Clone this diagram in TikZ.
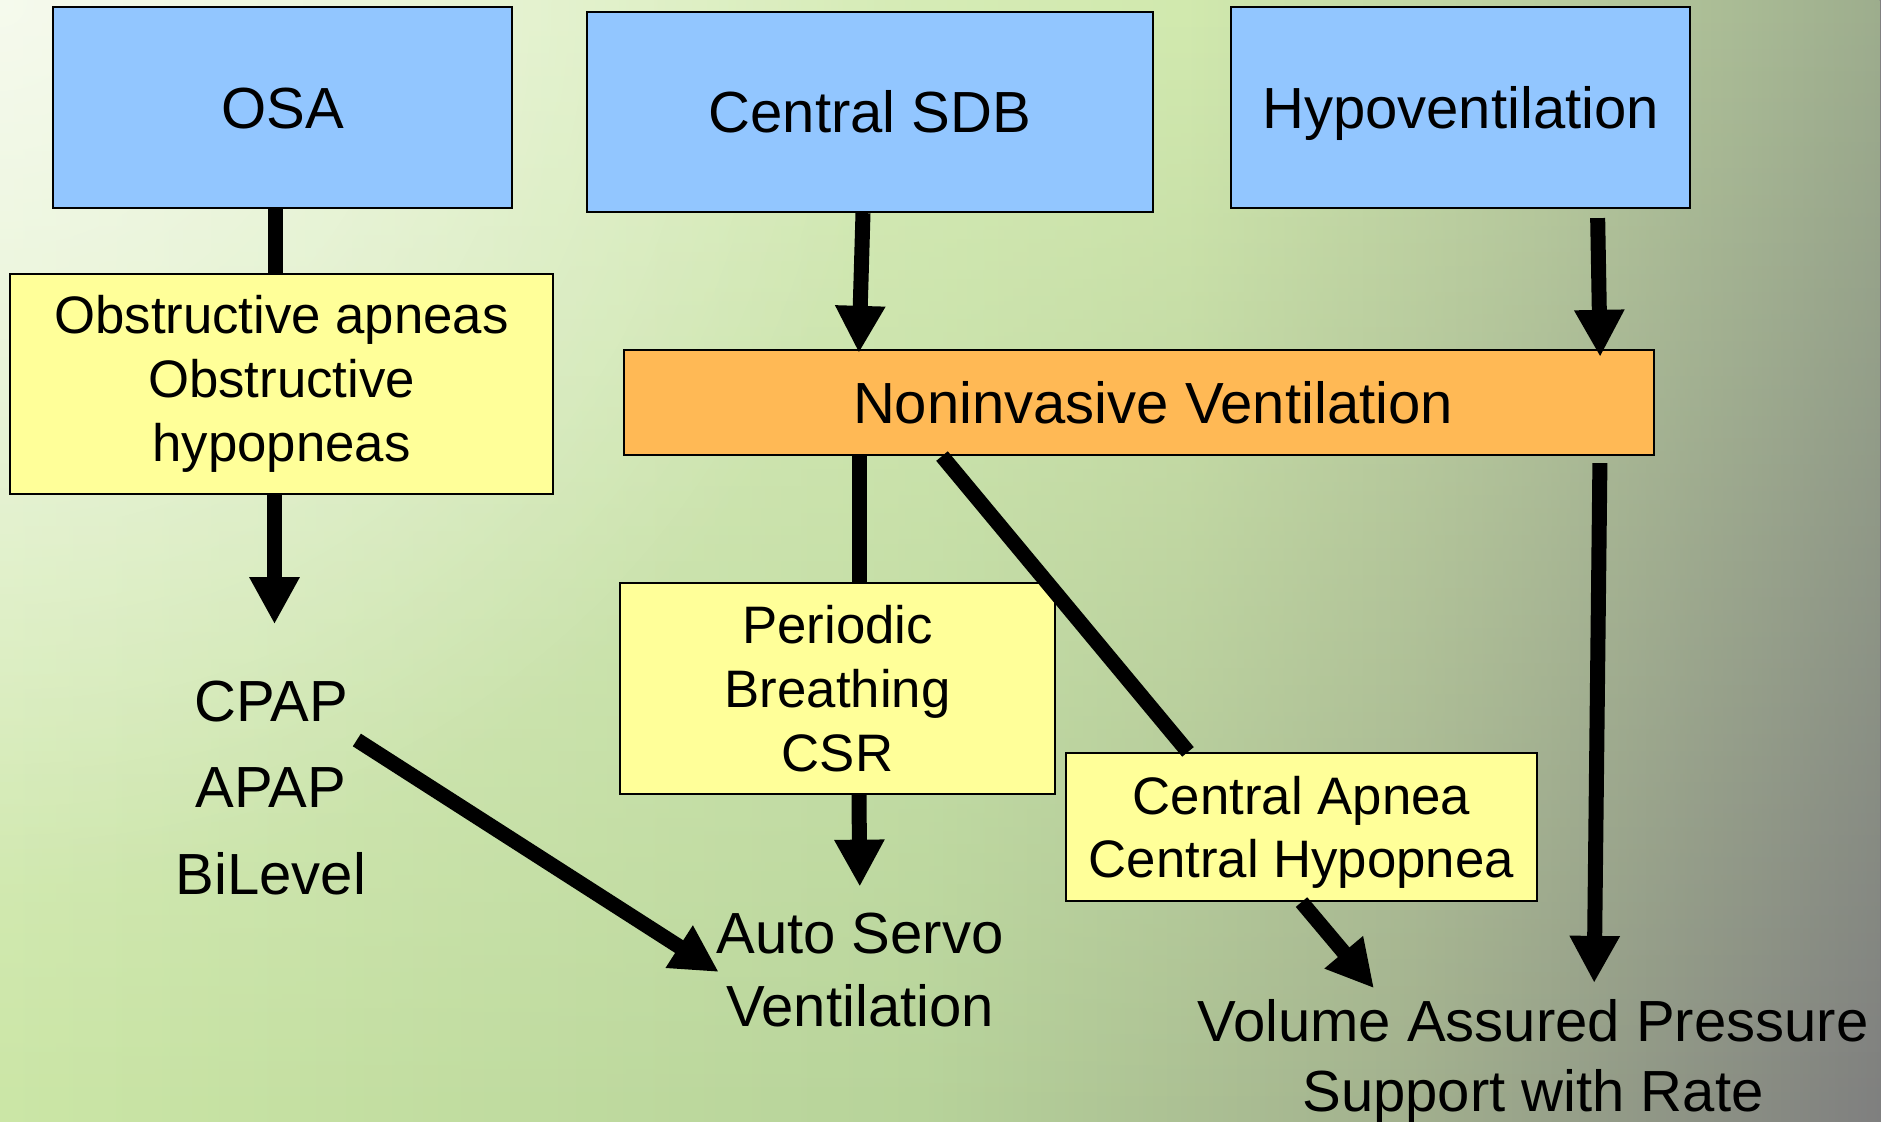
\documentclass[tikz,border=0pt]{standalone}
\usepackage{fontspec}
\setmainfont{Liberation Sans}
\usepackage{xcolor}
\usetikzlibrary{arrows.meta,fadings}

\definecolor{causeblue}{RGB}{146,198,255}
\definecolor{findyellow}{RGB}{255,255,153}
\definecolor{nivorange}{RGB}{255,185,85}

% background colours
\definecolor{bgtopA}{RGB}{232,244,212}
\definecolor{bgtopB}{RGB}{220,239,192}
\definecolor{bgtopC}{RGB}{210,234,175}
\definecolor{bgtopD}{RGB}{187,207,160}
\definecolor{bgtopE}{RGB}{158,174,142}
\definecolor{bgbotA}{RGB}{203,230,166}
\definecolor{bgbotB}{RGB}{183,211,154}
\definecolor{bgbotC}{RGB}{162,176,142}
\definecolor{bgbotD}{RGB}{127,127,127}

\pgfdeclarehorizontalshading{bgtop}{100bp}{color(0bp)=(bgtopA); color(25bp)=(bgtopA);
  color(40bp)=(bgtopB); color(56.5bp)=(bgtopC); color(66bp)=(bgtopD);
  color(75bp)=(bgtopE); color(100bp)=(bgtopE)}
\pgfdeclarehorizontalshading{bgbottom}{100bp}{color(0bp)=(bgbotA); color(25bp)=(bgbotA);
  color(49.5bp)=(bgbotB); color(62.5bp)=(bgbotC);
  color(75bp)=(bgbotD); color(100bp)=(bgbotD)}

\tikzfading[name=vfade, top color=transparent!0, middle color=transparent!25, bottom color=transparent!100]
\tikzfading[name=glow, inner color=transparent!0, outer color=transparent!100]

\begin{document}
\begin{tikzpicture}[x=0.01cm, y=-0.01cm,
    cause/.style={draw=black, line width=0.6pt, fill=causeblue, inner sep=0pt,
      text height=11.8pt, text depth=0pt, font=\fontsize{16.5}{20}\selectfont},
    finding/.style={draw=black, line width=0.6pt, fill=findyellow, inner sep=0pt,
      align=center, font=\fontsize{15}{18.1}\selectfont},
    therapy/.style={inner sep=0pt, align=center},
    link/.style={line width=0.15cm},
    flow/.style={line width=0.15cm, -{Triangle[width=0.47cm,length=0.47cm]}}]
  \useasboundingbox (0,0) rectangle (1881,1122);

  % Draw background
  \shade[shading=bgbottom] (0,0) rectangle (1881,1122);
  \shade[shading=bgtop, path fading=vfade] (0,0) rectangle (1881,1122);
  \fill[white, opacity=0.6, path fading=glow] (0,0) circle (900);

  % Draw disorders
  \node[cause, minimum width=4.59cm, minimum height=2.01cm] (osa) at (282.5,107.5) {OSA};
  \node[cause, minimum width=5.66cm, minimum height=2.00cm] (sdb) at (870,112) {Central SDB};
  \node[cause, minimum width=4.59cm, minimum height=2.01cm] (hypo) at (1460.5,107.5) {Hypoventilation};

  % Draw findings
  \node[finding, minimum width=5.43cm, minimum height=2.20cm] (obs) at (281.5,384)
    {Obstructive apneas\\Obstructive\\hypopneas};
  \node[draw=black, line width=0.6pt, fill=nivorange, inner sep=0pt,
    minimum width=10.30cm, minimum height=1.05cm,
    font=\fontsize{16.5}{20}\selectfont] (niv) at (1139,402.5) {\hspace*{0.28cm}Noninvasive Ventilation};
  \node[finding, minimum width=4.35cm, minimum height=2.11cm] (per) at (837.5,688.5)
    {Periodic\\Breathing\\CSR};
  \node[finding, text depth=0pt, minimum width=4.71cm, minimum height=1.48cm] (cen) at (1301.5,827)
    {Central Apnea\\Central Hypopnea};

  % Draw therapies
  \node[therapy, font=\fontsize{16.5}{24.6}\selectfont] (cpap) at (271,788) {CPAP\\APAP\\BiLevel};
  \node[therapy, font=\fontsize{16.5}{20.5}\selectfont] (asv) at (860,970) {Auto Servo\\Ventilation};
  \node[therapy, font=\fontsize{16.5}{19.8}\selectfont] (vaps) at (1533,1061.5)
    {Volume Assured Pressure\\Support with Rate};

  % Draw connectors
  \draw[link] ([shift={(-7,0)}]osa.south) -- ([shift={(-7,0)}]osa.south |- obs.north);
  \draw[flow, shorten >=0.56cm] ([shift={(-7,0)}]obs.south) -- ([shift={(-7,0)}]obs.south |- cpap.north);
  \draw[flow] ([shift={(-10,-48)}]cpap.east) -- ([shift={(3,2)}]asv.west);
  \draw[flow, shorten >=-0.04cm] ([shift={(-7,0)}]sdb.south) -- ([shift={(-280,0)}]niv.north);
  \draw[flow, shorten <=0.09cm, shorten >=-0.08cm] ([shift={(137,0)}]hypo.south) -- ([shift={(461,0)}]niv.north);
  \draw[link] ([shift={(-280,0)}]niv.south) -- ([shift={(21.5,0)}]per.north);
  \draw[flow, shorten >=0.26cm] ([shift={(21.5,0)}]per.south) -- (asv.north);
  \draw[link] ([shift={(-197,0)}]niv.south) -- ([shift={(-113.5,0)}]cen.north);
  \draw[flow, shorten >=0.14cm] (cen.south) -- ([shift={(-150,0)}]vaps.north);
  \draw[flow, shorten <=0.07cm, shorten >=0.16cm] ([shift={(461,0)}]niv.south) -- ([shift={(61,0)}]vaps.north);
\end{tikzpicture}
\end{document}
